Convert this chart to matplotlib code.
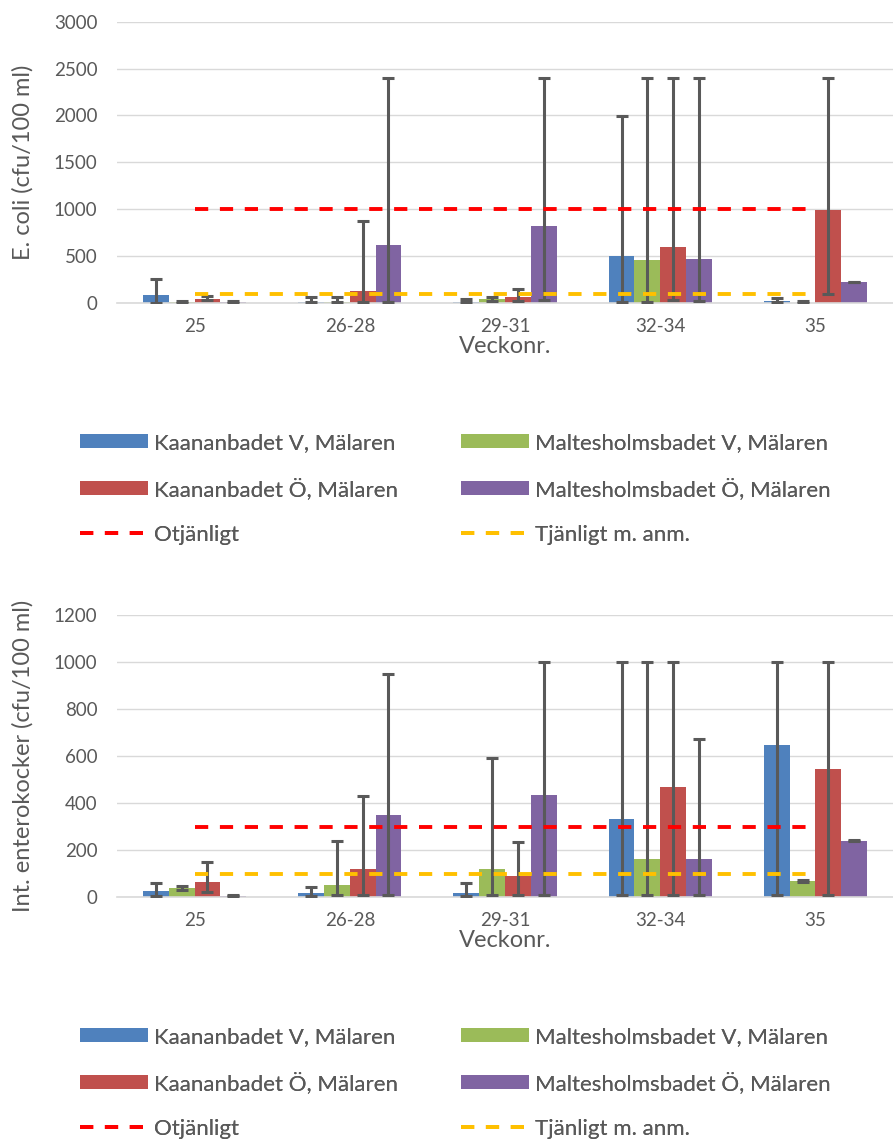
import matplotlib
matplotlib.use('Agg')
import matplotlib.pyplot as plt
from matplotlib.patches import Patch
from matplotlib.lines import Line2D
import numpy as np

plt.rcParams['font.family'] = ['Lato', 'DejaVu Sans']

weeks = ['25', '26-28', '29-31', '32-34', '35']
sites = ['Kaananbadet V, Mälaren', 'Maltesholmsbadet V, Mälaren',
         'Kaananbadet Ö, Mälaren', 'Maltesholmsbadet Ö, Mälaren']
site_colors = ['#4F81BD', '#9BBB59', '#C0504D', '#8064A2']

# E. coli (cfu/100 ml): bar value, lowest and highest sample per period
ecoli_mean = [
    [85, 10, 10, 500, 25],
    [10, 10, 40, 460, 5],
    [43, 125, 60, 594, 993],
    [10, 620, 820, 470, 221],
]
ecoli_min = [
    [5, 10, 10, 10, 10],
    [5, 10, 20, 10, 5],
    [30, 10, 20, 30, 100],
    [5, 15, 30, 20, 221],
]
ecoli_max = [
    [255, 60, 40, 1990, 50],
    [20, 60, 65, 2400, 20],
    [78, 870, 146, 2400, 2400],
    [25, 2400, 2400, 2400, 228],
]
ecoli_limits = [1000, 100]  # otjänligt, tjänligt m. anm.

# Intestinala enterokocker (cfu/100 ml)
ent_mean = [
    [25, 15, 15, 331, 648],
    [37, 51, 118, 161, 68],
    [65, 118, 91, 466, 544],
    [5, 349, 434, 161, 239],
]
ent_min = [
    [5, 5, 5, 10, 10],
    [30, 10, 10, 10, 65],
    [20, 10, 10, 10, 10],
    [3, 10, 10, 10, 237],
]
ent_max = [
    [58, 41, 60, 1000, 1000],
    [45, 238, 591, 1000, 72],
    [150, 430, 234, 1000, 1000],
    [10, 950, 1000, 672, 241],
]
ent_limits = [300, 100]

limit_labels = ['Otjänligt', 'Tjänligt m. anm.']
limit_colors = ['#FF0000', '#FFC000']

text_col = '#595959'
W, H = 893, 1140


def draw_chart(ax, means, mins, maxs, limits, ymax, ystep, ylabel):
    x = np.arange(len(weeks))
    w = 0.166
    for i in range(len(sites)):
        m = np.array(means[i], dtype=float)
        lo = np.clip(m - np.array(mins[i]), 0, None)
        hi = np.clip(np.array(maxs[i]) - m, 0, None)
        ax.bar(x + (i - 1.5) * w, m, w, color=site_colors[i], zorder=2,
               yerr=[lo, hi], ecolor=text_col,
               error_kw=dict(elinewidth=2.2, capsize=4.3, capthick=2.2, zorder=3))
    for val, col in zip(limits, limit_colors):
        ax.plot(x, [val] * len(x), color=col, lw=2.8, dashes=(3.4, 3.0), zorder=4)

    ax.set_xlim(-0.5, len(weeks) - 0.5)
    ax.set_ylim(0, ymax)
    ax.set_yticks(np.arange(0, ymax + 1, ystep))
    ax.set_xticks(x)
    ax.set_xticklabels(weeks)
    ax.grid(axis='y', color='#D9D9D9', lw=1.0, zorder=0)
    ax.set_axisbelow(True)
    for s in ['top', 'right', 'left']:
        ax.spines[s].set_visible(False)
    ax.spines['bottom'].set_color('#D9D9D9')
    ax.spines['bottom'].set_linewidth(1.2)
    ax.tick_params(length=0, labelsize=13.5, colors=text_col)
    ax.tick_params(axis='x', pad=11)
    ax.tick_params(axis='y', pad=14)
    ax.set_xlabel('Veckonr.', fontsize=17, color=text_col, va='top')
    ax.xaxis.set_label_coords(0.5, -0.118)
    # rotated label: 'bottom' is its right-hand side
    ax.set_ylabel(ylabel, fontsize=17, color=text_col, va='bottom')
    ax.yaxis.set_label_coords(-0.108, 0.5)


def draw_legend(fig, top_px):
    bars = [Patch(facecolor=c) for c in site_colors]
    lines = [Line2D([], [], color=c, lw=2.8, dashes=(3.4, 3.0)) for c in limit_colors]
    col1 = [bars[0], bars[2], lines[0]]
    col2 = [bars[1], bars[3], lines[1]]
    lab1 = [sites[0], sites[2], limit_labels[0]]
    lab2 = [sites[1], sites[3], limit_labels[1]]
    for handles, labels, left in [(col1, lab1, 80), (col2, lab2, 461)]:
        leg = fig.legend(handles, labels, loc='upper left',
                         bbox_to_anchor=(left / W, 1 - top_px / H),
                         frameon=False, fontsize=16, labelcolor=text_col,
                         handlelength=3.05, handleheight=0.6, handletextpad=0.27,
                         labelspacing=1.12, borderpad=0, borderaxespad=0)
        fig.add_artist(leg)


fig = plt.figure(figsize=(W / 100, H / 100), dpi=100)
ax1 = fig.add_axes([117 / W, 1 - 303 / H, (W - 117) / W, (303 - 21.7) / H])
ax2 = fig.add_axes([117 / W, 1 - 897 / H, (W - 117) / W, (897 - 615) / H])

draw_chart(ax1, ecoli_mean, ecoli_min, ecoli_max, ecoli_limits, 3000, 500,
           'E. coli (cfu/100 ml)')
draw_chart(ax2, ent_mean, ent_min, ent_max, ent_limits, 1200, 200,
           'Int. enterokocker (cfu/100 ml)')
draw_legend(fig, 433)
draw_legend(fig, 1027)

fig.savefig('out.png', dpi=100)
